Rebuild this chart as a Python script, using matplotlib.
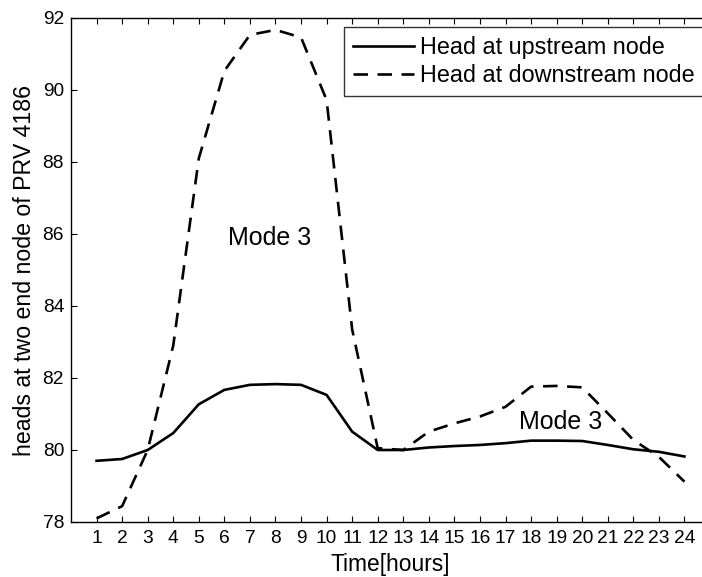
import numpy as np
import matplotlib
matplotlib.use('Agg')
import matplotlib.pyplot as plt

plt.rcParams['font.family'] = ['Liberation Sans', 'DejaVu Sans']

# hourly heads
hours = np.arange(1, 25)
head_up = [79.70, 79.75, 80.00, 80.47, 81.27, 81.67, 81.81, 81.83, 81.81, 81.53,
           80.51, 80.00, 80.00, 80.07, 80.11, 80.14, 80.19, 80.26, 80.26, 80.25,
           80.14, 80.02, 79.95, 79.82]
head_down = [78.10, 78.44, 80.00, 82.90, 88.10, 90.53, 91.53, 91.67, 91.46, 89.72,
             83.35, 80.05, 80.00, 80.51, 80.74, 80.93, 81.20, 81.76, 81.78, 81.74,
             81.02, 80.28, 79.81, 79.12]
tick_labels = [str(h) for h in hours]

fig = plt.figure(figsize=(7.02, 5.77), dpi=100)
ax = fig.add_axes([71/702, 55/577, 639/702, 504/577])

ax.plot(hours, head_up, color='black', lw=1.9, label='Head at upstream node')
ax.plot(hours, head_down, color='black', lw=1.9, linestyle=(0, (5.5, 3.6)),
        label='Head at downstream node')

ax.text(7.76, 85.69, 'Mode 3', fontsize=18, ha='center', va='baseline')
ax.text(19.15, 80.58, 'Mode 3', fontsize=18, ha='center', va='baseline')

ax.set_xlim(0, 25)
ax.set_ylim(78, 92)
ax.set_xticks(hours)
ax.set_xticklabels(tick_labels)
ax.set_yticks(np.arange(78, 93, 2))
ax.tick_params(direction='in', top=True, right=True, length=4.5, labelsize=13.8, pad=5)
ax.tick_params(axis='x', pad=6)
for s in ax.spines.values():
    s.set_linewidth(1.0)

ax.set_xlabel('Time[hours]', fontsize=16.4, labelpad=4)
ax.set_ylabel('heads at two end node of PRV 4186', fontsize=16.7, labelpad=5)

leg = ax.legend(loc='upper right', bbox_to_anchor=(703/702, 1 - 27/577),
                bbox_transform=fig.transFigure, fontsize=16.8, handlelength=2.6,
                frameon=True, fancybox=False, borderaxespad=0, borderpad=0.38,
                labelspacing=0.22, handletextpad=0.25)
leg.get_frame().set_edgecolor('black')
leg.get_frame().set_linewidth(1.0)

fig.savefig('out.png', dpi=100)
